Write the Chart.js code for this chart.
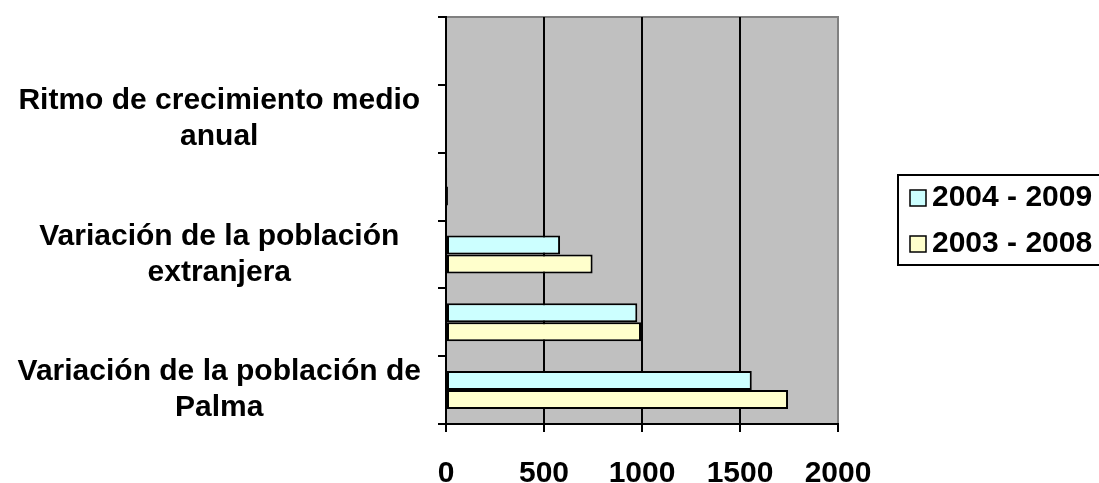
<!DOCTYPE html>
<html>
<head>
<meta charset="utf-8">
<script src="https://cdn.jsdelivr.net/npm/chart.js@4/dist/chart.umd.min.js"></script>
<style>
    body { margin: 0; background: #fff; overflow: hidden; }
</style>
</head>
<body>
<canvas id="chart1" width="1099" height="483"></canvas>
<script>
    // categorias de arriba a abajo (Excel solo muestra una de cada dos)
    var categories = [
        '',
        ['Ritmo de crecimiento medio', 'anual'],
        '',
        ['Variación de la población', 'extranjera'],
        '',
        ['Variación de la población de', 'Palma']
    ];
    var seriesNames = ['2004 - 2009', '2003 - 2008'];
    var values2004 = [0, 0, 6, 582, 976, 1560];
    var values2003 = [0, 0, 10, 748, 995, 1745];
    var xTicks = [0, 500, 1000, 1500, 2000];

    var fontBold = { family: "'Liberation Sans', Arial, sans-serif", weight: 'bold', size: 30, lineHeight: 1.2 };

    // fondo gris del area de trazado
    var plotBg = {
        id: 'plotBg',
        beforeDraw: function (chart) {
            var a = chart.chartArea, ctx = chart.ctx;
            ctx.save();
            ctx.fillStyle = '#c0c0c0';
            ctx.fillRect(a.left, a.top, a.right - a.left, a.bottom - a.top);
            ctx.strokeStyle = '#808080';
            ctx.lineWidth = 2;
            ctx.beginPath();
            ctx.moveTo(a.left, a.top);
            ctx.lineTo(a.right, a.top);
            ctx.lineTo(a.right, a.bottom);
            ctx.stroke();
            ctx.restore();
        }
    };

    // leyenda con marco como la de Excel
    var boxLegend = {
        id: 'boxLegend',
        afterDraw: function (chart) {
            var ctx = chart.ctx;
            var x = 898, y = 175;
            ctx.save();
            ctx.fillStyle = '#fff';
            ctx.fillRect(x, y, 260, 90);
            ctx.strokeStyle = '#000';
            ctx.lineWidth = 2;
            ctx.strokeRect(x, y, 260, 90);
            chart.data.datasets.forEach(function (ds, i) {
                var cy = 198 + i * 46;
                ctx.fillStyle = ds.backgroundColor;
                ctx.fillRect(910, cy - 8, 16, 16);
                ctx.lineWidth = 1.5;
                ctx.strokeStyle = '#000';
                ctx.strokeRect(910, cy - 8, 16, 16);
                ctx.fillStyle = '#000';
                ctx.font = 'bold 30px "Liberation Sans", Arial, sans-serif';
                ctx.textBaseline = 'middle';
                ctx.textAlign = 'left';
                ctx.fillText(ds.label, 932, cy);
            });
            ctx.restore();
        }
    };

    const chart1 = new Chart(document.getElementById('chart1'), {
        type: 'bar',
        data: {
            labels: categories,
            datasets: [
                { label: seriesNames[0], data: values2004, backgroundColor: '#ccffff' },
                { label: seriesNames[1], data: values2003, backgroundColor: '#ffffcc' }
            ]
        },
        options: {
            indexAxis: 'y',
            responsive: false,
            animation: false,
            devicePixelRatio: 1,
            layout: { padding: { left: 0, top: 17, right: 261, bottom: 0 } },
            datasets: {
                bar: {
                    categoryPercentage: 0.56,
                    barPercentage: 1,
                    borderColor: '#000',
                    borderWidth: 2,
                    borderSkipped: false
                }
            },
            plugins: {
                legend: { display: false },
                tooltip: { enabled: false }
            },
            scales: {
                x: {
                    min: 0,
                    max: 2000,
                    afterBuildTicks: function (s) { s.ticks = xTicks.map(function (v) { return { value: v }; }); },
                    afterFit: function (s) { s.height = 59; s.paddingLeft = 0; s.paddingRight = 0; },
                    ticks: {
                        color: '#000', font: fontBold, padding: 24, maxRotation: 0,
                        callback: function (v) { return String(v); }
                    },
                    grid: {
                        color: function (c) { return c.tick && c.tick.value === 2000 ? '#808080' : '#000'; },
                        tickColor: '#000',
                        lineWidth: 2,
                        tickLength: 8
                    },
                    border: { color: '#000', width: 2 }
                },
                y: {
                    afterFit: function (s) { s.width = 446; s.paddingTop = 0; s.paddingBottom = 0; },
                    ticks: { color: '#000', font: fontBold, padding: 17, crossAlign: 'center', autoSkip: false },
                    grid: {
                        offset: true,
                        drawOnChartArea: false,
                        color: '#000',
                        lineWidth: 2,
                        tickLength: 8
                    },
                    border: { color: '#000', width: 2 }
                }
            }
        },
        plugins: [plotBg, boxLegend]
    });
</script>
</body>
</html>
